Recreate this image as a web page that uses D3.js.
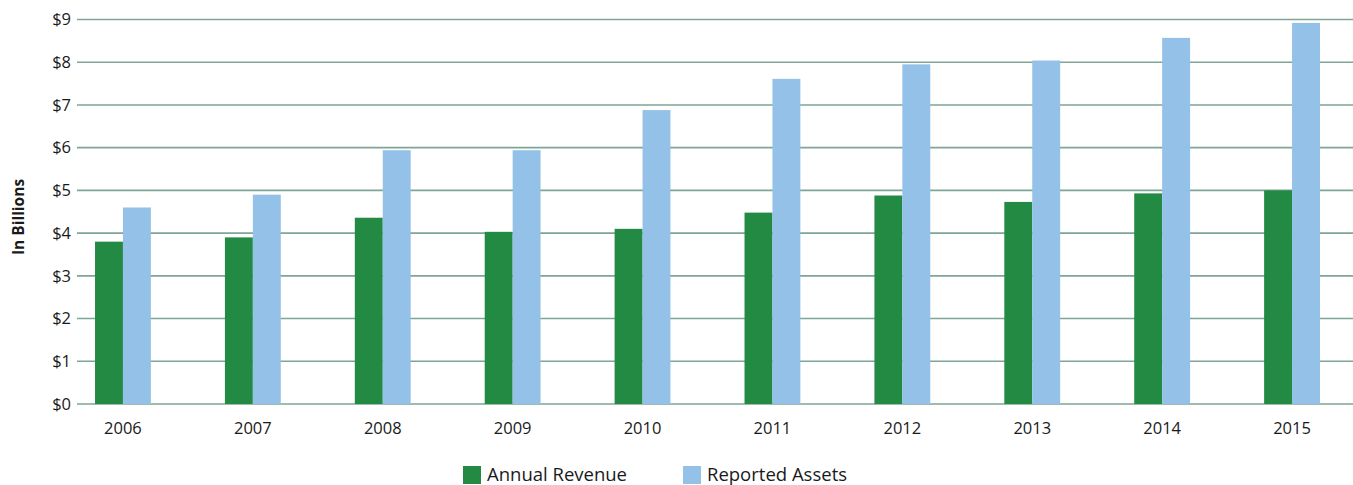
<!DOCTYPE html>
<html><head><meta charset="utf-8">
<script src="https://cdn.jsdelivr.net/npm/d3@7"></script>
<style>
html,body{margin:0;padding:0;background:#fff;}
svg{display:block;font-family:"Open Sans","Noto Sans",sans-serif;}
</style></head>
<body>
<svg id="chart" width="1353" height="485"></svg>
<script>
const years = ["2006","2007","2008","2009","2010","2011","2012","2013","2014","2015"];
const annualRevenue = [3.80, 3.90, 4.36, 4.03, 4.10, 4.48, 4.88, 4.73, 4.93, 5.00];
const reportedAssets = [4.60, 4.90, 5.94, 5.94, 6.88, 7.61, 7.95, 8.04, 8.57, 8.92];
const seriesNames = ["Annual Revenue", "Reported Assets"];
const seriesColors = ["#238a44", "#94c1e8"];
const yTicks = [0,1,2,3,4,5,6,7,8,9];

const svg = d3.select("#chart");
const x = d3.scaleBand().domain(years).range([58, 1357]).paddingInner(0.57).paddingOuter(0.285);
const xs = d3.scaleBand().domain(seriesNames).range([0, x.bandwidth()]);
const y = d3.scaleLinear().domain([0, 9]).range([404, 19.5]);

// gridlines
svg.append("g").selectAll("line").data(yTicks).join("line")
  .attr("x1", 77).attr("x2", 1353)
  .attr("y1", d => y(d)).attr("y2", d => y(d))
  .attr("stroke", "#7ea595").attr("stroke-width", 1.6);

// y tick labels
svg.append("g").selectAll("text").data(yTicks).join("text")
  .attr("x", 71).attr("y", d => y(d)).attr("dy", "0.35em")
  .attr("text-anchor", "end").attr("font-size", 16.5).attr("fill", "#1a1a1a")
  .text(d => "$" + d);

// bars
const data = years.map((yr, i) => ({year: yr, vals: [annualRevenue[i], reportedAssets[i]]}));
const groups = svg.append("g").selectAll("g").data(data).join("g")
  .attr("transform", d => `translate(${x(d.year)},0)`);
groups.selectAll("rect").data(d => d.vals.map((v, j) => ({v, s: seriesNames[j], c: seriesColors[j]})))
  .join("rect")
  .attr("x", d => xs(d.s)).attr("width", xs.bandwidth())
  .attr("y", d => y(d.v)).attr("height", d => y(0) - y(d.v))
  .attr("fill", d => d.c);

// x labels
svg.append("g").selectAll("text").data(years).join("text")
  .attr("x", d => x(d) + x.bandwidth()/2).attr("y", 434)
  .attr("text-anchor", "middle").attr("font-size", 16.5).attr("fill", "#1a1a1a")
  .text(d => d);

// y title
svg.append("text").attr("transform", "translate(24,217) rotate(-90)")
  .attr("text-anchor", "middle").attr("font-size", 15.5).attr("font-weight", "bold").attr("fill", "#1a1a1a")
  .text("In Billions");

// legend
const legendX = [463, 683];
const lg = svg.append("g").selectAll("g").data(seriesNames).join("g")
  .attr("transform", (d, i) => `translate(${legendX[i]},466)`);
lg.append("rect").attr("width", 18).attr("height", 18).attr("fill", (d, i) => seriesColors[i]);
lg.append("text").attr("x", 24).attr("y", 14.5).attr("font-size", 18.5).attr("fill", "#1a1a1a").text(d => d);
</script>
</body></html>
